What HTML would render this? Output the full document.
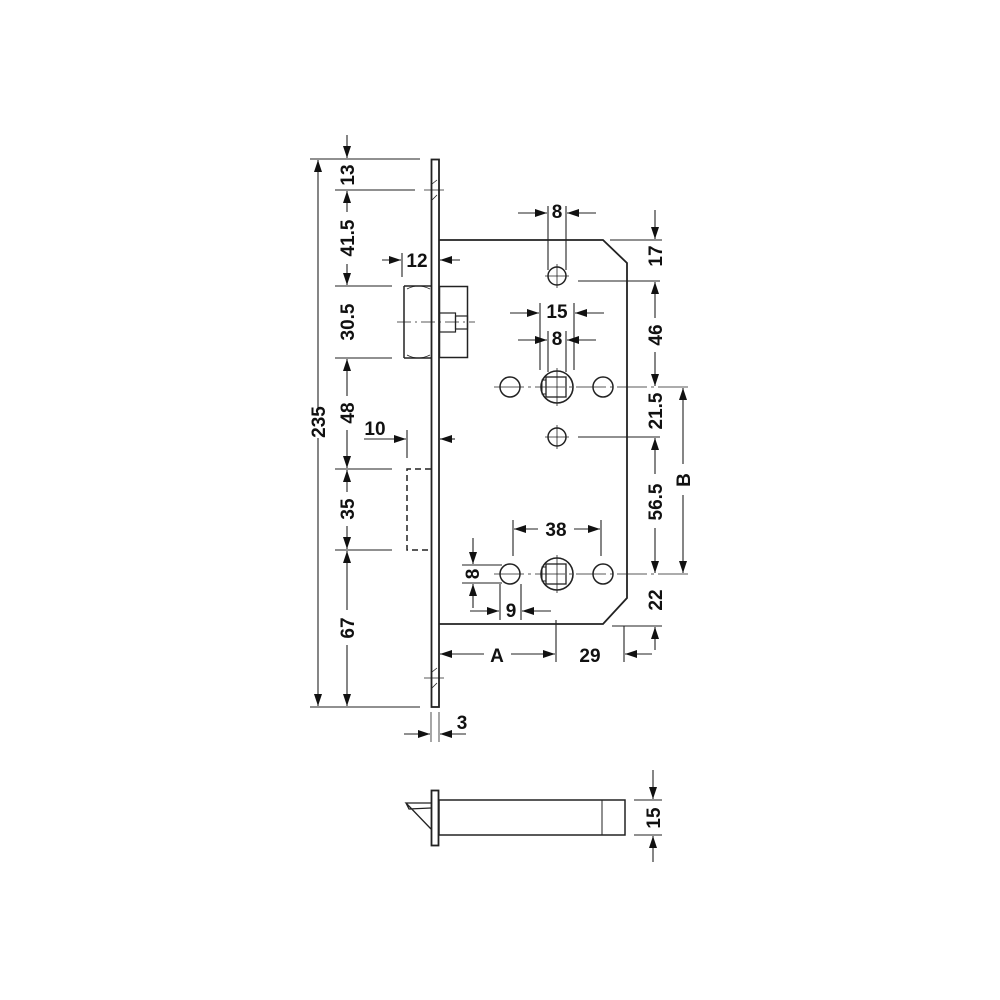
<!DOCTYPE html>
<html><head><meta charset="utf-8"><style>
html,body{margin:0;padding:0;background:#fff;}
svg{display:block;}
text{font-family:"Liberation Sans",Arial,sans-serif;font-weight:bold;font-size:19px;fill:#111;}
</style></head><body>
<svg width="1000" height="1000" viewBox="0 0 1000 1000" xmlns="http://www.w3.org/2000/svg">
<defs>
<marker id="a" viewBox="0 0 12 8" refX="12" refY="4" markerWidth="12" markerHeight="8" markerUnits="userSpaceOnUse" orient="auto-start-reverse"><path d="M0,0 L12,4 L0,8 Z" fill="#111"/></marker>
</defs>
<g stroke="#222" stroke-width="1.1" fill="none">
<line x1="310" y1="159" x2="420" y2="159"/>
<line x1="335" y1="190" x2="415" y2="190"/>
<line x1="335" y1="286" x2="392" y2="286"/>
<line x1="335" y1="358" x2="392" y2="358"/>
<line x1="335" y1="469" x2="392" y2="469"/>
<line x1="335" y1="550" x2="392" y2="550"/>
<line x1="310" y1="707" x2="420" y2="707"/>
<line x1="318" y1="160" x2="318" y2="408" marker-start="url(#a)"/>
<line x1="318" y1="438" x2="318" y2="706" marker-end="url(#a)"/>
<line x1="347" y1="135" x2="347" y2="158" marker-end="url(#a)"/>
<line x1="347" y1="191" x2="347" y2="212" marker-start="url(#a)"/>
<line x1="347" y1="264" x2="347" y2="285" marker-end="url(#a)"/>
<line x1="347" y1="359" x2="347" y2="396" marker-start="url(#a)"/>
<line x1="347" y1="430" x2="347" y2="468" marker-end="url(#a)"/>
<line x1="347" y1="470" x2="347" y2="492" marker-start="url(#a)"/>
<line x1="347" y1="526" x2="347" y2="549" marker-end="url(#a)"/>
<line x1="347" y1="551" x2="347" y2="610" marker-start="url(#a)"/>
<line x1="347" y1="645" x2="347" y2="706" marker-end="url(#a)"/>
<line x1="402" y1="253" x2="402" y2="277"/>
<line x1="382" y1="260" x2="401" y2="260" marker-end="url(#a)"/>
<line x1="460" y1="260" x2="440" y2="260" marker-end="url(#a)"/>
<line x1="407" y1="430" x2="407" y2="458"/>
<line x1="364" y1="439" x2="406" y2="439" marker-end="url(#a)"/>
<line x1="455" y1="439" x2="440" y2="439" marker-end="url(#a)"/>
<rect x="431.5" y="159.5" width="7.5" height="547.5" stroke-width="1.8"/>
<line x1="424" y1="190" x2="444" y2="190" stroke-width="0.8"/>
<line x1="424" y1="678" x2="444" y2="678" stroke-width="0.8"/>
<path d="M432,184 l5,-4 M432,200 l5,-5 M432,672 l5,-4 M432,688 l5,-5" stroke-width="0.8"/>
<path d="M439,240 L603,240 L627,263 L627,598 L603,624 L439,624" stroke-width="1.8"/>
<path d="M404,286 L431,286 M404,358 L431,358 M404,286 L404,358" stroke-width="1.5"/>
<path d="M407,289 Q418,283 430,289 M407,355 Q418,361 430,355" stroke-width="0.8"/>
<rect x="439.5" y="286.5" width="28" height="71" stroke-width="1.5"/>
<rect x="439.5" y="313" width="16" height="19" stroke-width="1.2"/>
<rect x="455.5" y="316" width="12" height="13" stroke-width="1.2"/>
<line x1="397" y1="322" x2="475" y2="322" stroke-width="0.7" stroke-dasharray="14,4,2,4"/>
<path d="M431,469 L407,469 L407,550 L431,550" stroke-width="1.5" stroke-dasharray="6,4"/>
<circle cx="557" cy="276" r="9" stroke-width="1.5"/>
<line x1="545" y1="276" x2="569" y2="276" stroke-width="0.8"/>
<line x1="557" y1="264" x2="557" y2="288" stroke-width="0.8"/>
<line x1="578" y1="281" x2="660" y2="281"/>
<circle cx="510" cy="387" r="10" stroke-width="1.5"/>
<circle cx="603" cy="387" r="10" stroke-width="1.5"/>
<circle cx="557" cy="387" r="16" stroke-width="1.6"/>
<rect x="546" y="377" width="20" height="20" stroke-width="1.3"/>
<rect x="542" y="380" width="4" height="14" stroke-width="1"/>
<line x1="494" y1="387" x2="690" y2="387" stroke-width="0.8" stroke-dasharray="30,4,3,4"/>
<line x1="557" y1="368" x2="557" y2="406" stroke-width="0.8"/>
<circle cx="557" cy="437" r="9" stroke-width="1.5"/>
<line x1="545" y1="437" x2="569" y2="437" stroke-width="0.8"/>
<line x1="557" y1="425" x2="557" y2="449" stroke-width="0.8"/>
<line x1="578" y1="437" x2="660" y2="437"/>
<circle cx="510" cy="574" r="10" stroke-width="1.5"/>
<circle cx="603" cy="574" r="10" stroke-width="1.5"/>
<circle cx="557" cy="574" r="16" stroke-width="1.6"/>
<rect x="546" y="564" width="20" height="20" stroke-width="1.3"/>
<rect x="542" y="567" width="4" height="14" stroke-width="1"/>
<line x1="494" y1="574" x2="690" y2="574" stroke-width="0.8" stroke-dasharray="30,4,3,4"/>
<line x1="557" y1="555" x2="557" y2="593" stroke-width="0.8"/>
<line x1="548" y1="206" x2="548" y2="270"/>
<line x1="566" y1="206" x2="566" y2="270"/>
<line x1="518" y1="213" x2="547" y2="213" marker-end="url(#a)"/>
<line x1="596" y1="213" x2="567" y2="213" marker-end="url(#a)"/>
<line x1="540" y1="303" x2="540" y2="370"/>
<line x1="574" y1="303" x2="574" y2="370"/>
<line x1="510" y1="313" x2="539" y2="313" marker-end="url(#a)"/>
<line x1="604" y1="313" x2="575" y2="313" marker-end="url(#a)"/>
<line x1="548" y1="331" x2="548" y2="372"/>
<line x1="566" y1="331" x2="566" y2="372"/>
<line x1="518" y1="340" x2="547" y2="340" marker-end="url(#a)"/>
<line x1="596" y1="340" x2="567" y2="340" marker-end="url(#a)"/>
<line x1="513" y1="520" x2="513" y2="556"/>
<line x1="601" y1="520" x2="601" y2="556"/>
<line x1="514" y1="529" x2="538" y2="529" marker-start="url(#a)"/>
<line x1="574" y1="529" x2="600" y2="529" marker-end="url(#a)"/>
<line x1="462" y1="565" x2="502" y2="565"/>
<line x1="462" y1="583" x2="502" y2="583"/>
<line x1="473" y1="538" x2="473" y2="564" marker-end="url(#a)"/>
<line x1="473" y1="608" x2="473" y2="584" marker-end="url(#a)"/>
<line x1="500" y1="584" x2="500" y2="620"/>
<line x1="521" y1="584" x2="521" y2="620"/>
<line x1="470" y1="611" x2="499" y2="611" marker-end="url(#a)"/>
<line x1="551" y1="611" x2="522" y2="611" marker-end="url(#a)"/>
<line x1="556" y1="620" x2="556" y2="662"/>
<line x1="440" y1="654" x2="484" y2="654" marker-start="url(#a)"/>
<line x1="511" y1="654" x2="555" y2="654" marker-end="url(#a)"/>
<line x1="624" y1="626" x2="624" y2="662"/>
<line x1="652" y1="654" x2="625" y2="654" marker-end="url(#a)"/>
<line x1="612" y1="626" x2="662" y2="626"/>
<line x1="610" y1="240" x2="662" y2="240"/>
<line x1="655" y1="210" x2="655" y2="239" marker-end="url(#a)"/>
<line x1="655" y1="282" x2="655" y2="318" marker-start="url(#a)"/>
<line x1="655" y1="352" x2="655" y2="386" marker-end="url(#a)"/>
<line x1="655" y1="438" x2="655" y2="474" marker-start="url(#a)"/>
<line x1="655" y1="528" x2="655" y2="573" marker-end="url(#a)"/>
<line x1="655" y1="650" x2="655" y2="627" marker-end="url(#a)"/>
<line x1="683" y1="388" x2="683" y2="464" marker-start="url(#a)"/>
<line x1="683" y1="495" x2="683" y2="573" marker-end="url(#a)"/>
<line x1="431" y1="712" x2="431" y2="742" stroke-width="0.8"/>
<line x1="439" y1="712" x2="439" y2="742" stroke-width="0.8"/>
<line x1="404" y1="734" x2="430" y2="734" marker-end="url(#a)"/>
<line x1="466" y1="734" x2="440" y2="734" marker-end="url(#a)"/>
<rect x="431.5" y="790.5" width="7" height="55" stroke-width="1.8"/>
<rect x="439" y="800" width="186" height="35" stroke-width="1.5"/>
<line x1="602" y1="800" x2="602" y2="835" stroke-width="1"/>
<path d="M431,803 L406,803 L431,829 M406,803 L409,809 L431,808" stroke-width="1.3"/>
<line x1="634" y1="800" x2="662" y2="800"/>
<line x1="634" y1="835" x2="662" y2="835"/>
<line x1="653" y1="770" x2="653" y2="799" marker-end="url(#a)"/>
<line x1="653" y1="862" x2="653" y2="836" marker-end="url(#a)"/>
</g>
<g>
<text transform="translate(325,422) rotate(-90)" text-anchor="middle">235</text>
<text transform="translate(354,175) rotate(-90)" text-anchor="middle">13</text>
<text transform="translate(354,238) rotate(-90)" text-anchor="middle">41.5</text>
<text transform="translate(354,322) rotate(-90)" text-anchor="middle">30.5</text>
<text transform="translate(354,413) rotate(-90)" text-anchor="middle">48</text>
<text transform="translate(354,509) rotate(-90)" text-anchor="middle">35</text>
<text transform="translate(354,628) rotate(-90)" text-anchor="middle">67</text>
<text x="417" y="267" text-anchor="middle">12</text>
<text x="375" y="435" text-anchor="middle">10</text>
<text x="557" y="218" text-anchor="middle">8</text>
<text x="557" y="318" text-anchor="middle">15</text>
<text x="557" y="345" text-anchor="middle">8</text>
<text x="556" y="536" text-anchor="middle">38</text>
<text transform="translate(479,574) rotate(-90)" text-anchor="middle">8</text>
<text x="511" y="617" text-anchor="middle">9</text>
<text x="497" y="662" text-anchor="middle">A</text>
<text x="590" y="662" text-anchor="middle">29</text>
<text x="462" y="729" text-anchor="middle">3</text>
<text transform="translate(662,256) rotate(-90)" text-anchor="middle">17</text>
<text transform="translate(662,335) rotate(-90)" text-anchor="middle">46</text>
<text transform="translate(662,411) rotate(-90)" text-anchor="middle">21.5</text>
<text transform="translate(662,502) rotate(-90)" text-anchor="middle">56.5</text>
<text transform="translate(662,600) rotate(-90)" text-anchor="middle">22</text>
<text transform="translate(690,480) rotate(-90)" text-anchor="middle">B</text>
<text transform="translate(660,818) rotate(-90)" text-anchor="middle">15</text>
</g>
</svg>
</body></html>
